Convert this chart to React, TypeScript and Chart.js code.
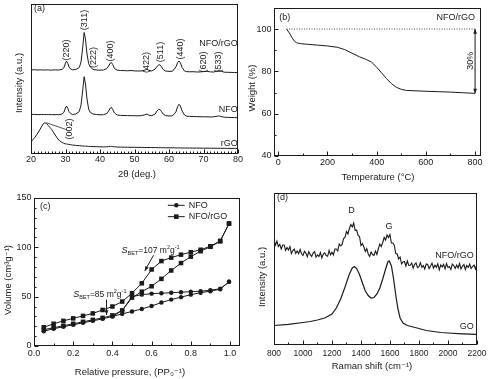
import React, { useEffect, useRef } from 'react';
import { Chart, registerables } from 'chart.js';

Chart.register(...registerables);

const FONT = '"Liberation Sans", Arial, "DejaVu Sans", sans-serif';
const INK = '#1a1a1a';

// ---------------- (a) XRD ----------------
const xrdAngle = [20, 21, 22, 23, 23.5, 24, 24.5, 25, 25.5, 26, 27, 28, 29, 29.5, 30, 30.3, 30.7, 31, 31.5, 32, 33, 34, 34.5, 35, 35.4, 35.8, 36.2, 36.7, 37.2, 38, 39, 40, 41, 42, 42.5, 43, 43.3, 43.7, 44.2, 45, 46, 47, 48, 49, 50, 51, 52, 53, 53.6, 54.2, 55, 56, 56.5, 57, 57.4, 57.8, 58.3, 59, 60, 61, 62, 62.5, 62.9, 63.3, 63.8, 64.5, 65, 66, 67, 68, 69, 70, 71, 72, 73, 74, 74.5, 75, 76, 77, 78, 79, 80];
const xrdNfoRgo = [84, 84.3, 84, 84.2, 83.9, 84.1, 84, 84.2, 83.8, 84, 84.1, 84, 84.6, 86, 91, 93, 90.5, 87, 85, 84.2, 84.5, 86.5, 92, 107, 121.5, 115, 101, 90.5, 87, 84.6, 84, 83.8, 84, 85.5, 88, 91, 91.5, 89.5, 85.5, 83.8, 83.5, 83.4, 83.2, 83.5, 83.1, 83, 83.1, 83.8, 85, 83.6, 83, 85, 87.5, 89, 89.2, 87.3, 84.5, 83, 82.6, 82.8, 87, 91.5, 93, 91.2, 86.5, 83, 82.4, 82.2, 82.3, 82, 82.1, 82.4, 82.7, 82.1, 82, 83, 84, 83, 81.8, 81.7, 81.6, 81.5, 81.4];
const xrdNfo = [39.5, 39.6, 39.4, 39.5, 39.4, 39.5, 39.3, 39.5, 39.4, 39.4, 39.3, 39.4, 40, 41.5, 46, 48, 45.5, 42.5, 40.5, 39.5, 40, 42.5, 49, 64, 77.3, 70, 56, 45, 41.5, 40, 39.5, 39.2, 39.3, 40.5, 43, 46, 46.7, 44.5, 41, 39, 38.6, 38.5, 38.4, 38.3, 38.3, 38.2, 38.4, 39.2, 40, 38.8, 38.3, 40, 43, 44.7, 44.5, 42.5, 40, 38.4, 38, 38.2, 42, 47.5, 49.7, 48, 43, 39, 38, 37.6, 37.5, 37.4, 37.3, 37.2, 37.2, 37, 37.2, 37.8, 38.1, 37.5, 36.8, 36.6, 36.5, 36.4, 36.3];
const xrdRgo = [12.3, 16, 21, 27, 30, 31.3, 30.5, 28.5, 26.5, 24.5, 19, 14, 11.5, 10.8, 10.2, 10, 9.8, 9.6, 9.3, 9, 8.6, 8.3, 8.1, 8, 7.9, 7.8, 7.8, 7.6, 7.5, 7.4, 7.3, 7.2, 7.1, 7.2, 7.4, 7.6, 7.6, 7.4, 7.2, 7, 6.9, 6.8, 6.8, 6.7, 6.7, 6.6, 6.6, 6.5, 6.5, 6.5, 6.4, 6.4, 6.4, 6.3, 6.3, 6.3, 6.3, 6.2, 6.2, 6.2, 6.1, 6.1, 6.1, 6.1, 6, 6, 6, 6, 5.9, 5.9, 5.9, 5.8, 5.8, 5.8, 5.8, 5.7, 5.7, 5.7, 5.7, 5.6, 5.6, 5.6, 5.6];
const xrdTicks = [20, 30, 40, 50, 60, 70, 80];
const hklText = ['(220)', '(311)', '(222)', '(400)', '(422)', '(511)', '(440)', '(620)', '(533)', '(002)'];
const hklAngle = [30.26, 35.6, 38.2, 43.15, 53.6, 57.5, 63.3, 70.1, 74.4, 31.2];
const hklLevel = [104, 134, 96.5, 103, 91.5, 102, 105, 92, 92, 25];

// ---------------- (b) TGA ----------------
const tgaTemp = [34, 45, 55, 65, 75, 90, 120, 160, 200, 240, 270, 300, 330, 360, 380, 400, 420, 440, 460, 480, 500, 520, 560, 600, 650, 700, 750, 800];
const tgaWeight = [100, 98.2, 96.2, 94.4, 93.5, 93.1, 92.8, 92.4, 92.0, 91.4, 90.3, 88.6, 86.9, 85.5, 84.3, 82.0, 79.3, 76.6, 74.2, 72.5, 71.5, 71.0, 70.8, 70.6, 70.4, 70.2, 69.9, 69.6];
const tgaXTicks = [0, 200, 400, 600, 800];
const tgaYTicks = [40, 60, 80, 100];

// ---------------- (c) BET isotherms ----------------
const nfoAdsP = [0.05, 0.1, 0.15, 0.2, 0.25, 0.3, 0.35, 0.4, 0.45, 0.5, 0.55, 0.6, 0.65, 0.7, 0.75, 0.8, 0.85, 0.9, 0.95, 0.995];
const nfoAdsV = [15, 17.5, 19.5, 21.5, 23.5, 25.5, 27.5, 30, 32.5, 35, 37.5, 40.5, 44, 47, 49.5, 52, 54, 55.5, 57.5, 65];
const nfoDesP = [0.995, 0.95, 0.9, 0.85, 0.8, 0.75, 0.7, 0.65, 0.6, 0.55, 0.5, 0.45, 0.4];
const nfoDesV = [65, 58, 56.5, 55.5, 55, 54.5, 54, 53.5, 53, 52, 50, 36, 30];
const nfoRgoAdsP = [0.05, 0.1, 0.15, 0.2, 0.25, 0.3, 0.35, 0.4, 0.45, 0.5, 0.55, 0.6, 0.65, 0.7, 0.75, 0.8, 0.85, 0.9, 0.95, 0.995];
const nfoRgoAdsV = [16.5, 18.5, 20.5, 22.5, 24.5, 26.5, 28.5, 31, 36, 49, 55, 60.5, 68, 76.5, 84, 90.5, 96, 100.5, 106, 124];
const nfoRgoDesP = [0.995, 0.95, 0.9, 0.85, 0.8, 0.75, 0.7, 0.65, 0.6, 0.55, 0.5, 0.45, 0.4, 0.35, 0.3, 0.25, 0.2, 0.15, 0.1, 0.05];
const nfoRgoDesV = [124, 106.5, 101, 97.5, 95, 92.5, 89.5, 86, 77.5, 63.5, 53.5, 45, 40, 36.5, 33, 30.5, 28, 25.5, 22.5, 19];
const betXTicks = [0, 0.2, 0.4, 0.6, 0.8, 1.0];
const betYTicks = [0, 50, 100, 150];

// ---------------- (d) Raman ----------------
const ramanShift = [800, 810, 820, 830, 840, 850, 860, 870, 880, 890, 900, 910, 920, 930, 940, 950, 960, 970, 980, 990, 1000, 1010, 1020, 1030, 1040, 1050, 1060, 1070, 1080, 1090, 1100, 1110, 1120, 1130, 1140, 1150, 1160, 1170, 1180, 1190, 1200, 1210, 1220, 1230, 1240, 1250, 1260, 1270, 1280, 1290, 1300, 1310, 1320, 1330, 1340, 1350, 1360, 1370, 1380, 1390, 1400, 1410, 1420, 1430, 1440, 1450, 1460, 1470, 1480, 1490, 1500, 1510, 1520, 1530, 1540, 1550, 1560, 1570, 1580, 1590, 1600, 1610, 1620, 1630, 1640, 1650, 1660, 1670, 1680, 1690, 1700, 1710, 1720, 1730, 1740, 1750, 1760, 1770, 1780, 1790, 1800, 1810, 1820, 1830, 1840, 1850, 1860, 1870, 1880, 1890, 1900, 1910, 1920, 1930, 1940, 1950, 1960, 1970, 1980, 1990, 2000, 2010, 2020, 2030, 2040, 2050, 2060, 2070, 2080, 2090, 2100, 2110, 2120, 2130, 2140, 2150, 2160, 2170, 2180, 2190, 2200];
const ramanNfoRgo = [104.5, 100, 104, 98.5, 100.5, 96, 100, 100, 94.5, 97.5, 95, 98.5, 91.5, 94.5, 96, 91.5, 94, 91.3, 95.5, 91.2, 89.5, 93.7, 91.9, 88.2, 93.5, 90.3, 88.6, 92, 93.4, 87.8, 90.2, 88.6, 92.5, 87, 91, 92.2, 89.4, 88.7, 94.5, 90.1, 92.8, 90, 96, 96, 94, 101, 99, 100.5, 106.5, 107.5, 113.5, 111, 116.5, 120.5, 118, 122, 114.5, 115, 109.5, 108.5, 99.5, 101.5, 98, 93.5, 96.5, 91, 88.5, 93, 90.5, 89.5, 94, 90.5, 96.5, 101, 98.5, 102.5, 107.5, 105, 110, 107.5, 110.5, 102, 102, 99.5, 91.5, 91, 86, 88, 81, 83, 83.5, 79, 84, 79.5, 79.7, 82, 76.8, 80.6, 82, 77.4, 78.3, 82.2, 77.6, 79.5, 76, 81, 80.5, 76.4, 78.9, 81.8, 76.8, 79.8, 77.7, 81.2, 75.2, 80.1, 78.1, 80.6, 76.1, 81.5, 77.5, 78.5, 75.5, 81, 79.5, 76.5, 80, 77, 81.5, 76, 79, 80.5, 75.5, 79.5, 77.5, 81, 76.5, 78.5, 80, 76, 80.5];
const goShift = [800, 900, 1000, 1050, 1100, 1150, 1200, 1230, 1260, 1290, 1320, 1340, 1355, 1370, 1390, 1410, 1430, 1450, 1470, 1490, 1510, 1530, 1550, 1570, 1585, 1595, 1610, 1625, 1640, 1655, 1670, 1690, 1720, 1760, 1800, 1850, 1900, 1950, 2000, 2100, 2200];
const goIntensity = [19.5, 20.7, 22.5, 23.5, 25, 27, 31, 37, 46, 58, 71, 77, 78.5, 76.5, 70.5, 62, 54, 49.5, 47, 47.5, 51, 57, 66, 76, 83, 84, 79, 66, 50, 36, 27, 22, 19.5, 18, 16.5, 14.5, 13.5, 12.5, 12, 11.2, 10.7];
const ramanXTicks = [800, 1000, 1200, 1400, 1600, 1800, 2000, 2200];

// ---------------- helpers ----------------
const pts = (xs: number[], ys: number[]) => xs.map((x, i) => ({ x, y: ys[i] }));

type TickSpec = { major: number; minor: number; from: number; to: number };
type Note = { x: number; y: number; text: string; size: number; align?: CanvasTextAlign; rotate?: boolean };
type Title = { x: number; y: number; text: string; size: number; rotate?: boolean };
type Seg = { x1: number; y1: number; x2: number; y2: number; head?: 'none' | 'end' | 'both'; dash?: number[]; color?: string };
type Part = { t: string; size: number; dy?: number; italic?: boolean };
type Rich = { x: number; y: number; parts: Part[] };
type Leg = { x1: number; x2: number; y: number; marker: 'circle' | 'rect'; label: string; tx: number };
type Decor = { xTicks?: TickSpec; yTicks?: TickSpec; titles?: Title[]; notes?: Note[]; segs?: Seg[]; rich?: Rich[]; legend?: Leg[] };

function drawText(ctx: CanvasRenderingContext2D, x: number, y: number, s: string, size: number, align: CanvasTextAlign = 'left', rotate = false) {
  ctx.save();
  ctx.fillStyle = INK;
  ctx.font = `${size}px ${FONT}`;
  ctx.textBaseline = 'middle';
  ctx.textAlign = align;
  ctx.translate(x, y);
  if (rotate) ctx.rotate(-Math.PI / 2);
  ctx.fillText(s, 0, 0);
  ctx.restore();
}

function arrowHead(ctx: CanvasRenderingContext2D, x1: number, y1: number, x2: number, y2: number, size: number) {
  const a = Math.atan2(y2 - y1, x2 - x1);
  ctx.beginPath();
  ctx.moveTo(x2, y2);
  ctx.lineTo(x2 - size * Math.cos(a - 0.38), y2 - size * Math.sin(a - 0.38));
  ctx.lineTo(x2 - size * Math.cos(a + 0.38), y2 - size * Math.sin(a + 0.38));
  ctx.closePath();
  ctx.fill();
}

function decor(d: Decor) {
  return {
    id: 'decor',
    afterDraw(chart: any) {
      const { ctx, chartArea: a, scales } = chart;
      const X = (v: number) => scales.x.getPixelForValue(v);
      const Y = (v: number) => scales.y.getPixelForValue(v);
      ctx.save();
      ctx.strokeStyle = INK;
      ctx.fillStyle = INK;
      ctx.lineWidth = 1;
      const L = Math.round(a.left) + 0.5;
      const R = Math.round(a.right) - 0.5;
      const T = Math.round(a.top) + 0.5;
      const B = Math.round(a.bottom) - 0.5;
      ctx.strokeRect(L, T, R - L, B - T);
      const tickLoop = (spec: TickSpec, fn: (v: number, major: boolean) => void) => {
        const n = Math.round((spec.to - spec.from) / spec.minor);
        for (let i = 0; i <= n; i++) {
          const v = spec.from + i * spec.minor;
          const r = v / spec.major;
          fn(v, Math.abs(r - Math.round(r)) < 1e-6);
        }
      };
      ctx.beginPath();
      if (d.xTicks) {
        tickLoop(d.xTicks, (v, major) => {
          const px = Math.round(X(v)) + 0.5;
          ctx.moveTo(px, B);
          ctx.lineTo(px, B - (major ? 4 : 2));
        });
      }
      if (d.yTicks) {
        tickLoop(d.yTicks, (v, major) => {
          const py = Math.round(Y(v)) + 0.5;
          ctx.moveTo(L, py);
          ctx.lineTo(L + (major ? 4 : 2), py);
        });
      }
      ctx.stroke();

      (d.segs || []).forEach((s) => {
        const x1 = X(s.x1), y1 = Y(s.y1), x2 = X(s.x2), y2 = Y(s.y2);
        ctx.save();
        ctx.strokeStyle = s.color || INK;
        ctx.fillStyle = s.color || INK;
        ctx.setLineDash(s.dash || []);
        ctx.beginPath();
        ctx.moveTo(x1, y1);
        ctx.lineTo(x2, y2);
        ctx.stroke();
        ctx.setLineDash([]);
        if (s.head === 'end' || s.head === 'both') arrowHead(ctx, x1, y1, x2, y2, 5);
        if (s.head === 'both') arrowHead(ctx, x2, y2, x1, y1, 5);
        ctx.restore();
      });

      (d.notes || []).forEach((n) => drawText(ctx, X(n.x), Y(n.y), n.text, n.size, n.align || 'left', !!n.rotate));
      (d.titles || []).forEach((t) => drawText(ctx, t.x, t.y, t.text, t.size, 'center', !!t.rotate));

      (d.rich || []).forEach((r) => {
        let cx = X(r.x);
        const base = Y(r.y) + 3;
        r.parts.forEach((p) => {
          ctx.font = `${p.italic ? 'italic ' : ''}${p.size}px ${FONT}`;
          ctx.textAlign = 'left';
          ctx.textBaseline = 'alphabetic';
          ctx.fillText(p.t, cx, base + (p.dy || 0));
          cx += ctx.measureText(p.t).width;
        });
      });

      (d.legend || []).forEach((g) => {
        const x1 = X(g.x1), x2 = X(g.x2), y = Y(g.y);
        ctx.beginPath();
        ctx.moveTo(x1, y);
        ctx.lineTo(x2, y);
        ctx.stroke();
        const cx = (x1 + x2) / 2;
        if (g.marker === 'circle') {
          ctx.beginPath();
          ctx.arc(cx, y, 2.2, 0, Math.PI * 2);
          ctx.fill();
        } else {
          ctx.fillRect(cx - 2.3, y - 2.3, 4.6, 4.6);
        }
        drawText(ctx, X(g.tx), y, g.label, 9, 'left');
      });
      ctx.restore();
    },
  };
}

function xAxis(o: { min: number; max: number; ticks: number[]; fmt: (v: number) => string; height: number; pad: number; size: number }) {
  return {
    type: 'linear',
    position: 'bottom',
    min: o.min,
    max: o.max,
    afterBuildTicks: (s: any) => {
      s.ticks = o.ticks.map((v) => ({ value: v }));
    },
    afterFit: (s: any) => {
      s.height = o.height;
    },
    grid: { display: false, drawTicks: false },
    border: { display: false },
    ticks: {
      autoSkip: false,
      maxRotation: 0,
      minRotation: 0,
      padding: o.pad,
      color: INK,
      font: { family: FONT, size: o.size },
      callback: (v: any) => o.fmt(Number(v)),
    },
    title: { display: false },
  };
}

function yAxis(o: { min: number; max: number; ticks: number[]; width: number; pad: number }) {
  return {
    type: 'linear',
    position: 'left',
    min: o.min,
    max: o.max,
    afterBuildTicks: (s: any) => {
      s.ticks = o.ticks.map((v) => ({ value: v }));
    },
    afterFit: (s: any) => {
      s.width = o.width;
    },
    grid: { display: false, drawTicks: false },
    border: { display: false },
    ticks: {
      display: o.ticks.length > 0,
      padding: o.pad,
      color: INK,
      font: { family: FONT, size: 9 },
      callback: (v: any) => String(v),
    },
    title: { display: false },
  };
}

function makeConfig(datasets: any[], scales: any, padding: any, d: Decor) {
  return {
    type: 'line',
    data: { datasets },
    options: {
      animation: false,
      responsive: false,
      events: [],
      layout: { padding },
      plugins: { legend: { display: false }, tooltip: { enabled: false } },
      elements: { line: { tension: 0 } },
      scales,
    },
    plugins: [decor(d)],
  };
}

const lineDs = (xs: number[], ys: number[], width = 1) => ({
  data: pts(xs, ys),
  borderColor: INK,
  borderWidth: width,
  pointRadius: 0,
  fill: false,
});

const markDs = (xs: number[], ys: number[], style: string, radius: number) => ({
  data: pts(xs, ys),
  borderColor: INK,
  backgroundColor: INK,
  borderWidth: 1,
  pointStyle: style,
  pointRadius: radius,
  pointBorderWidth: 0,
  fill: false,
});

// ---------------- configs ----------------
function configA() {
  const notes: Note[] = hklText.map((t, i) => ({ x: hklAngle[i], y: hklLevel[i], text: t, size: 9, align: 'center', rotate: true }));
  notes.push({ x: 79.9, y: 110.5, text: 'NFO/rGO', size: 9, align: 'right' });
  notes.push({ x: 79.9, y: 44, text: 'NFO', size: 9, align: 'right' });
  notes.push({ x: 79.9, y: 10, text: 'rGO', size: 9, align: 'right' });
  notes.push({ x: 20.9, y: 145, text: '(a)', size: 9, align: 'left' });
  return makeConfig(
    [lineDs(xrdAngle, xrdNfoRgo), lineDs(xrdAngle, xrdNfo), lineDs(xrdAngle, xrdRgo)],
    {
      x: xAxis({ min: 20, max: 80, ticks: xrdTicks, fmt: (v) => String(v), height: 36, pad: 0.6, size: 9 }),
      y: yAxis({ min: 0, max: 150, ticks: [], width: 31, pad: 3 }),
    },
    { left: 0, top: 4, right: 7, bottom: 0 },
    {
      xTicks: { major: 10, minor: 1, from: 20, to: 80 },
      notes,
      segs: [{ x1: 24.45, y1: 31.3, x2: 30.4, y2: 24.2, head: 'none', color: '#555' }],
      titles: [
        { x: 19, y: 83, text: 'Intensity (a.u.)', size: 9.5, rotate: true },
        { x: 137, y: 174, text: '2θ (deg.)', size: 9.5 },
      ],
    }
  );
}

function configB() {
  return makeConfig(
    [lineDs(tgaTemp, tgaWeight)],
    {
      x: xAxis({ min: -17, max: 824, ticks: tgaXTicks, fmt: (v) => String(v), height: 34, pad: 0.9, size: 9 }),
      y: yAxis({ min: 40, max: 110, ticks: tgaYTicks, width: 29, pad: 2.5 }),
    },
    { left: 0, top: 3, right: 9, bottom: 0 },
    {
      xTicks: { major: 200, minor: 100, from: 0, to: 800 },
      yTicks: { major: 20, minor: 10, from: 40, to: 100 },
      segs: [
        { x1: 34, y1: 100, x2: 800, y2: 100, head: 'none', dash: [1, 1.5], color: '#444' },
        { x1: 800, y1: 100, x2: 800, y2: 69.6, head: 'both' },
      ],
      notes: [
        { x: 4, y: 105.6, text: '(b)', size: 9, align: 'left' },
        { x: 800, y: 105.6, text: 'NFO/rGO', size: 9, align: 'right' },
        { x: 782, y: 85, text: '30%', size: 9, align: 'center', rotate: true },
      ],
      titles: [
        { x: 7, y: 88, text: 'Weight (%)', size: 9.5, rotate: true },
        { x: 133, y: 177, text: 'Temperature (°C)', size: 9.5 },
      ],
    }
  );
}

function sbet(value: string): Part[] {
  return [
    { t: 'S', size: 9, italic: true },
    { t: 'BET', size: 5.5, dy: 2 },
    { t: '=' + value + ' m', size: 8.5 },
    { t: '2', size: 5.5, dy: -4 },
    { t: 'g', size: 8.5 },
    { t: '-1', size: 5.5, dy: -4 },
  ];
}

function configC() {
  return makeConfig(
    [
      markDs(nfoAdsP, nfoAdsV, 'circle', 2.2),
      markDs(nfoDesP, nfoDesV, 'circle', 2.2),
      markDs(nfoRgoAdsP, nfoRgoAdsV, 'rect', 3.2),
      markDs(nfoRgoDesP, nfoRgoDesV, 'rect', 3.2),
    ],
    {
      x: xAxis({ min: 0, max: 1.051, ticks: betXTicks, fmt: (v) => v.toFixed(1), height: 33, pad: 2, size: 9 }),
      y: yAxis({ min: 0, max: 150, ticks: betYTicks, width: 34, pad: 2.5 }),
    },
    { left: 0, top: 3, right: 5, bottom: 0 },
    {
      xTicks: { major: 0.2, minor: 0.1, from: 0, to: 1 },
      yTicks: { major: 50, minor: 10, from: 0, to: 150 },
      notes: [{ x: 0.03, y: 141, text: '(c)', size: 9, align: 'left' }],
      legend: [
        { x1: 0.683, x2: 0.769, y: 142.5, marker: 'circle', label: 'NFO', tx: 0.79 },
        { x1: 0.683, x2: 0.769, y: 131, marker: 'rect', label: 'NFO/rGO', tx: 0.79 },
      ],
      rich: [
        { x: 0.447, y: 97, parts: sbet('107') },
        { x: 0.2, y: 52.5, parts: sbet('85') },
      ],
      segs: [
        { x1: 0.61, y1: 92, x2: 0.565, y2: 76, head: 'end' },
        { x1: 0.37, y1: 47, x2: 0.37, y2: 31.5, head: 'end' },
      ],
      titles: [
        { x: 8, y: 90, text: 'Volume (cm³g⁻¹)', size: 9.5, rotate: true },
        { x: 130, y: 182, text: 'Relative pressure, (PP₀⁻¹)', size: 9.5 },
      ],
    }
  );
}

function configD() {
  return makeConfig(
    [lineDs(ramanShift, ramanNfoRgo, 1.1), lineDs(goShift, goIntensity, 1.2)],
    {
      x: xAxis({ min: 800, max: 2200, ticks: ramanXTicks, fmt: (v) => String(v), height: 34, pad: 3.6, size: 8.5 }),
      y: yAxis({ min: 0, max: 152, ticks: [], width: 29, pad: 3 }),
    },
    { left: 0, top: 3, right: 10, bottom: 0 },
    {
      xTicks: { major: 200, minor: 100, from: 800, to: 2200 },
      notes: [
        { x: 820, y: 147, text: '(d)', size: 9, align: 'left' },
        { x: 1335, y: 134, text: 'D', size: 9, align: 'center' },
        { x: 1593, y: 118, text: 'G', size: 9, align: 'center' },
        { x: 2178, y: 89, text: 'NFO/rGO', size: 9, align: 'right' },
        { x: 2178, y: 18, text: 'GO', size: 9, align: 'right' },
      ],
      titles: [
        { x: 17, y: 87, text: 'Intensity (a.u.)', size: 9.5, rotate: true },
        { x: 127, y: 176, text: 'Raman shift (cm⁻¹)', size: 9.5 },
      ],
    }
  );
}

type Box = { left: number; top: number; w: number; h: number };

function Panel({ box, make }: { box: Box; make: () => any }) {
  const ref = useRef<HTMLCanvasElement>(null);
  useEffect(() => {
    const chart = new Chart(ref.current as HTMLCanvasElement, make());
    return () => chart.destroy();
  }, []);
  return (
    <canvas
      ref={ref}
      width={box.w}
      height={box.h}
      style={{ position: 'absolute', left: box.left, top: box.top, width: box.w, height: box.h }}
    />
  );
}

export default function App() {
  return (
    <div style={{ position: 'absolute', left: 0, top: 0, width: 490, height: 379, background: '#fff', overflow: 'hidden' }}>
      <Panel box={{ left: 0, top: 0, w: 245, h: 190 }} make={configA} />
      <Panel box={{ left: 245, top: 0, w: 245, h: 190 }} make={configB} />
      <Panel box={{ left: 0, top: 190, w: 245, h: 189 }} make={configC} />
      <Panel box={{ left: 245, top: 190, w: 245, h: 189 }} make={configD} />
    </div>
  );
}
